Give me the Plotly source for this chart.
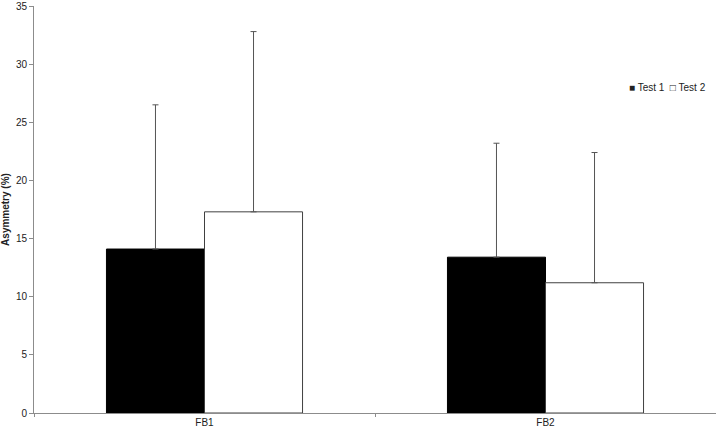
import plotly.graph_objects as go

categories = ["FB1", "FB2"]
test1_mean = [14.1, 13.4]
test1_sd = [12.4, 9.8]
test2_mean = [17.3, 11.2]
test2_sd = [15.5, 11.2]

font = "Liberation Sans"

fig = go.Figure()
fig.add_trace(go.Bar(
    x=categories, y=test1_mean, name="Test 1",
    marker=dict(color="black", line=dict(color="black", width=1)),
    error_y=dict(type="data", array=test1_sd, symmetric=False,
                 arrayminus=[0, 0], color="#555555", thickness=1, width=3)
))
fig.add_trace(go.Bar(
    x=categories, y=test2_mean, name="Test 2",
    marker=dict(color="white", line=dict(color="#404040", width=1)),
    error_y=dict(type="data", array=test2_sd, symmetric=False,
                 arrayminus=[0, 0], color="#555555", thickness=1, width=3)
))

# compact legend like the original (squares + labels)
fig.add_annotation(
    text="■ Test 1  □ Test 2", xref="paper", yref="paper",
    x=0.869, y=0.80, xanchor="left", yanchor="middle", showarrow=False,
    font=dict(family=font, size=10, color="#222222"),
)

fig.update_layout(
    width=716, height=431,
    margin=dict(l=34, r=0, t=6, b=18, autoexpand=False),
    plot_bgcolor="white", paper_bgcolor="white",
    barmode="group", bargap=0.425, bargroupgap=0,
    font=dict(family=font, size=10, color="#222222"),
    showlegend=False,
)
fig.update_xaxes(
    showline=True, linecolor="#8c8c8c", linewidth=1,
    ticks="outside", tickson="boundaries", ticklen=3, tickcolor="#8c8c8c",
    showgrid=False, automargin=False,
)
fig.update_yaxes(
    range=[0, 35], dtick=5, showline=True, linecolor="#8c8c8c", linewidth=1,
    ticks="outside", ticklen=4, tickcolor="#8c8c8c", showgrid=False,
    zeroline=False, automargin=False,
    title=dict(text="<b>Asymmetry (%)</b>", standoff=5, font=dict(size=10)),
)

# drop the default page margin so the chart fills the window exactly
fig.write_html("out.html", config={"displayModeBar": False},
               post_script="document.body.style.margin='0';")
